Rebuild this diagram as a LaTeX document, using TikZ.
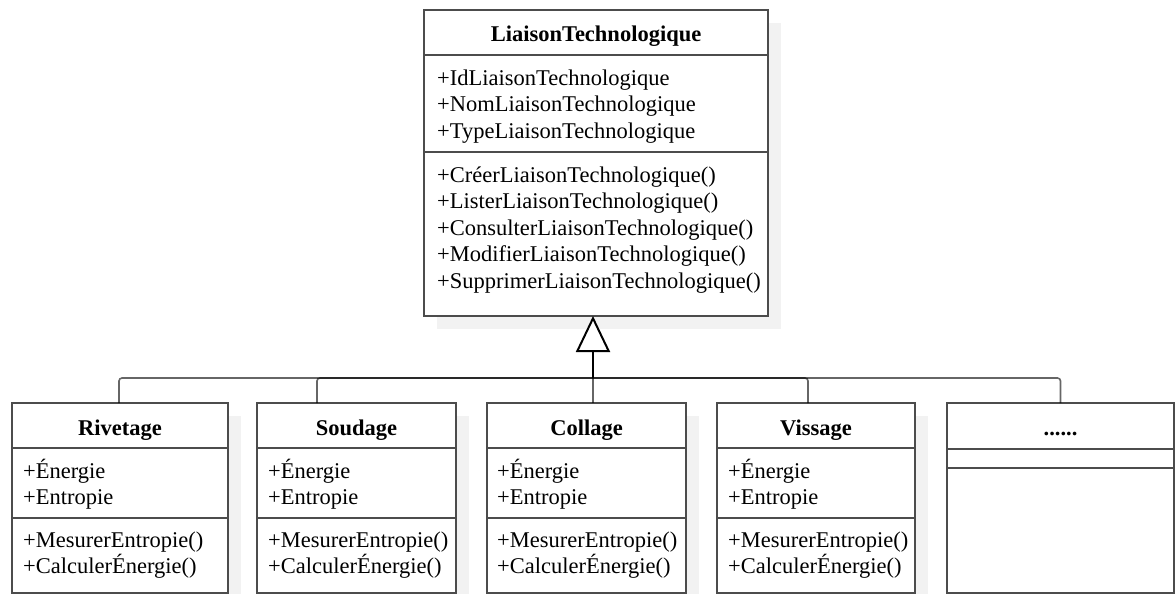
\documentclass[tikz,border=0pt]{standalone}
\usepackage{fontspec}
\setmainfont{Liberation Serif}
\usetikzlibrary{arrows.meta, positioning}
\tikzset{
	classbox/.style={draw=black!70, line width=1.6pt, fill=white, inner sep=0pt, outer sep=0pt},
	classshadow/.style={fill=black!5},
	hdrtext/.style={anchor=base, inner sep=0pt, font=\fontsize{22.5}{26.5}\selectfont\bfseries},
	membtext/.style={anchor=base west, inner sep=0pt, align=left, text width=400pt, font=\fontsize{22.5}{26.5}\selectfont},
	genlink/.style={draw=black, draw opacity=.6, line width=1.6pt, rounded corners=3pt},
	genarrow/.style={-{Triangle[fill=white, length=36pt, width=34pt]}, line width=2pt, black},
}

\begin{document}
\begin{tikzpicture}[x=1pt, y=-1pt]
	\useasboundingbox (0,0) rectangle (1175,594);

	% Parent class
	\fill[classshadow] (437,23) rectangle (781,329);
	\node[classbox, minimum width=344pt, minimum height=45pt] (lt) at (596,32.5) {};
	\node[classbox, minimum width=344pt, minimum height=97pt, below=0pt of lt] (lta) {};
	\node[classbox, minimum width=344pt, minimum height=164pt, below=0pt of lta] (ltm) {};
	\node[hdrtext] (ltname) at (596,42) {LiaisonTechnologique};
	\node[membtext] (ltattr) at (437,85) {+IdLiaisonTechnologique\\+NomLiaisonTechnologique\\+TypeLiaisonTechnologique};
	\node[membtext] (ltops) at (437,182) {+CréerLiaisonTechnologique()\\+ListerLiaisonTechnologique()\\+ConsulterLiaisonTechnologique()\\+ModifierLiaisonTechnologique()\\+SupprimerLiaisonTechnologique()};

	% Rivetage
	\fill[classshadow] (25,416) rectangle (241,606);
	\node[classbox, minimum width=216pt, minimum height=45pt] (riv) at (120,425.5) {};
	\node[classbox, minimum width=216pt, minimum height=70pt, below=0pt of riv] (riva) {};
	\node[classbox, minimum width=216pt, minimum height=75pt, below=0pt of riva] (rivm) {};
	\node[hdrtext] (rivname) at (120,435) {Rivetage};
	\node[membtext] (rivattr) at (23,478) {+Énergie\\+Entropie};
	\node[membtext] (rivops) at (23,547) {+MesurerEntropie()\\+CalculerÉnergie()};

	% Soudage
	\fill[classshadow] (270,416) rectangle (469,606);
	\node[classbox, minimum width=199pt, minimum height=45pt] (sou) at (356.5,425.5) {};
	\node[classbox, minimum width=199pt, minimum height=70pt, below=0pt of sou] (soua) {};
	\node[classbox, minimum width=199pt, minimum height=75pt, below=0pt of soua] (soum) {};
	\node[hdrtext] (souname) at (356.5,435) {Soudage};
	\node[membtext] (souattr) at (268,478) {+Énergie\\+Entropie};
	\node[membtext] (souops) at (268,547) {+MesurerEntropie()\\+CalculerÉnergie()};

	% Collage
	\fill[classshadow] (500,416) rectangle (699,606);
	\node[classbox, minimum width=199pt, minimum height=45pt] (col) at (586.5,425.5) {};
	\node[classbox, minimum width=199pt, minimum height=70pt, below=0pt of col] (cola) {};
	\node[classbox, minimum width=199pt, minimum height=75pt, below=0pt of cola] (colm) {};
	\node[hdrtext] (colname) at (586.5,435) {Collage};
	\node[membtext] (colattr) at (497,478) {+Énergie\\+Entropie};
	\node[membtext] (colops) at (497,547) {+MesurerEntropie()\\+CalculerÉnergie()};

	% Vissage
	\fill[classshadow] (730,416) rectangle (928,606);
	\node[classbox, minimum width=198pt, minimum height=45pt] (vis) at (816,425.5) {};
	\node[classbox, minimum width=198pt, minimum height=70pt, below=0pt of vis] (visa) {};
	\node[classbox, minimum width=198pt, minimum height=75pt, below=0pt of visa] (vism) {};
	\node[hdrtext] (visname) at (816,435) {Vissage};
	\node[membtext] (visattr) at (728,478) {+Énergie\\+Entropie};
	\node[membtext] (visops) at (728,547) {+MesurerEntropie()\\+CalculerÉnergie()};

	% Other classes
	\node[classbox, minimum width=227pt, minimum height=46pt] (etc) at (1060.5,426) {};
	\node[classbox, minimum width=227pt, minimum height=19pt, below=0pt of etc] (etca) {};
	\node[classbox, minimum width=227pt, minimum height=125pt, below=0pt of etca] (etcm) {};
	\node[hdrtext] (etcname) at (1060.5,435) {......};

	% Generalisation
	\coordinate (bus) at (593,378);
	\draw[genlink] ([xshift=-1pt]riv.north) |- (bus);
	\draw[genlink] ([xshift=-39.5pt]sou.north) |- (bus);
	\draw[genlink] ([xshift=6.5pt]col.north) -- (bus);
	\draw[genlink] ([xshift=-8pt]vis.north) |- (bus);
	\draw[genlink] (etc.north) |- (bus);
	\draw[genarrow] (bus) -- ([xshift=-3pt]ltm.south);
\end{tikzpicture}
\end{document}
